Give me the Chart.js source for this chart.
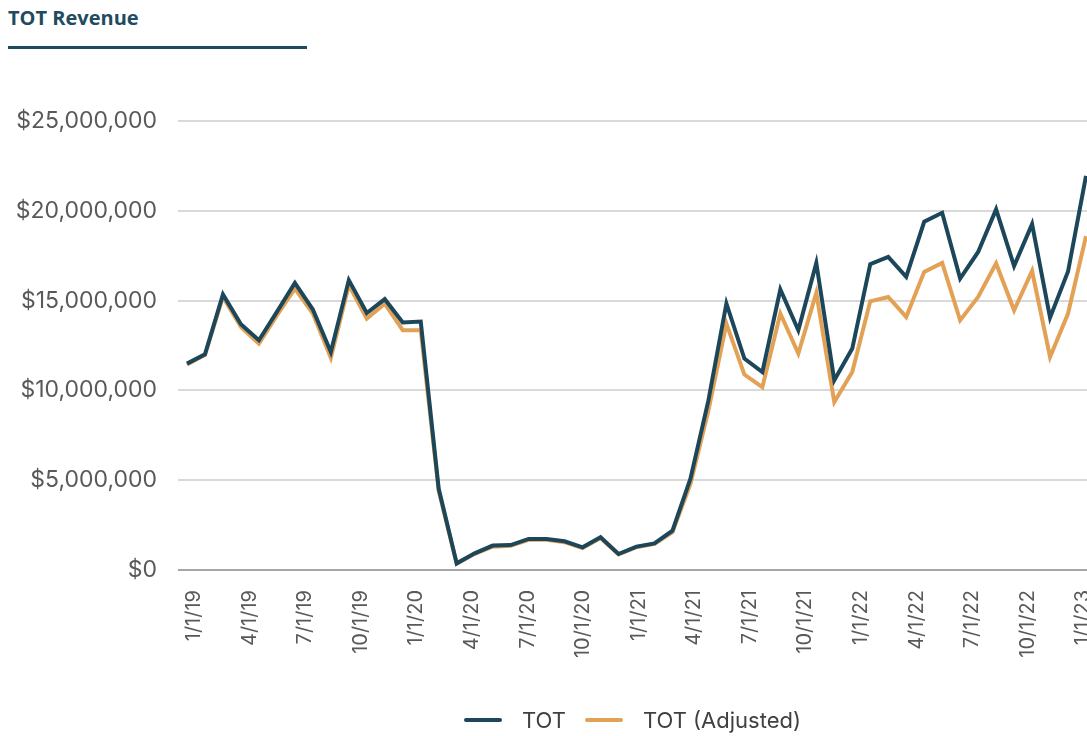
<!DOCTYPE html>
<html>
<head>
<meta charset="utf-8">
<title>TOT Revenue</title>
<script src="https://cdn.jsdelivr.net/npm/chart.js@4.4.1/dist/chart.umd.min.js"></script>
<style>
  body { margin: 0; background: #fff; overflow: hidden; width: 1087px; height: 736px; position: relative; font-family: Inter, sans-serif; }
  .chart-title { position: absolute; left: 8px; top: 7px; font: 700 20px "Open Sans", sans-serif; color: #1f4b60; line-height: 22px; }
  .title-rule { position: absolute; left: 8px; top: 46px; width: 299px; height: 3px; background: #1f4b60; }
  #chartWrap { position: absolute; left: 0; top: 0; }
  #legend { position: absolute; left: 464px; top: 708px; display: flex; align-items: center; font-size: 22px; color: #404040; line-height: 24px; }
  .legend-item { display: flex; align-items: center; margin-right: 19px; }
  .legend-swatch { width: 38px; height: 4px; border-radius: 2px; margin-right: 20px; }
</style>
</head>
<body>
<div class="chart-title">TOT Revenue</div>
<div class="title-rule"></div>
<div id="chartWrap"><canvas id="totChart" width="1100" height="736"></canvas></div>
<div id="legend"></div>
<script>
// monthly categories, 1/1/19 .. 3/1/23
const months = [];
for (let yr = 19; yr <= 23; yr++) {
  for (let m = 1; m <= 12; m++) {
    if (yr === 23 && m > 3) break;
    months.push(m + '/1/' + yr);
  }
}

const totValues = [
  11490000, 12010000, 15340000, 13680000, 12790000, 14370000, 15980000, 14500000, 12140000, 16140000, 14310000, 15080000,
  13780000, 13830000, 4520000, 370000, 930000, 1360000, 1390000, 1730000, 1730000, 1600000, 1260000, 1820000,
  890000, 1300000, 1480000, 2190000, 5080000, 9440000, 14840000, 11770000, 11020000, 15620000, 13350000, 17100000,
  10560000, 12330000, 17030000, 17430000, 16320000, 19390000, 19890000, 16230000, 17710000, 20080000, 16920000, 19260000,
  14050000, 16620000, 21940000
];

const totAdjusted = [
  11450000, 11980000, 15200000, 13530000, 12600000, 14180000, 15670000, 14280000, 11820000, 15860000, 14000000, 14830000,
  13350000, 13350000, 4400000, 350000, 900000, 1300000, 1350000, 1680000, 1680000, 1550000, 1220000, 1780000,
  870000, 1270000, 1450000, 2100000, 4800000, 8880000, 13720000, 10880000, 10180000, 14280000, 12050000, 15430000,
  9350000, 11020000, 14960000, 15200000, 14090000, 16600000, 17100000, 13900000, 15200000, 17070000, 14460000, 16650000,
  11860000, 14280000, 18590000
];

const tickLabels = ['1/1/19', '4/1/19', '7/1/19', '10/1/19', '1/1/20', '4/1/20', '7/1/20', '10/1/20', '1/1/21',
  '4/1/21', '7/1/21', '10/1/21', '1/1/22', '4/1/22', '7/1/22', '10/1/22', '1/1/23'];

const yMax = 25000000;
const yStep = 5000000;

const totColor = '#1c4659';
const adjColor = '#e2a155';

const ctx = document.getElementById('totChart').getContext('2d');
const totChart = new Chart(ctx, {
  type: 'line',
  data: {
    labels: months,
    datasets: [{
      label: 'TOT',
      data: totValues,
      borderColor: totColor,
      backgroundColor: totColor,
      borderWidth: 4,
      pointRadius: 0,
      tension: 0
    }, {
      label: 'TOT (Adjusted)',
      data: totAdjusted,
      borderColor: adjColor,
      backgroundColor: adjColor,
      borderWidth: 4,
      pointRadius: 0,
      tension: 0
    }]
  },
  options: {
    responsive: false,
    animation: false,
    layout: { padding: { top: 121, right: 5, bottom: 66, left: 0 } },
    plugins: {
      legend: { display: false },
      tooltip: { enabled: false }
    },
    scales: {
      x: { display: false, offset: true },
      // date labels sit on their own axis, they drift a bit from the points in the original
      xLabels: {
        type: 'linear',
        position: 'bottom',
        min: -0.29,
        max: 16.21,
        grid: { display: false },
        border: { display: false },
        afterBuildTicks: scale => { scale.ticks = tickLabels.map((t, i) => ({ value: i })); },
        afterFit: scale => {
          scale.height = 100;
          scale.paddingLeft = 0;
          scale.paddingRight = 0;
        },
        ticks: {
          autoSkip: false,
          maxRotation: 90,
          minRotation: 90,
          padding: 12,
          color: '#595959',
          font: { family: 'Inter', size: 20 },
          callback: v => tickLabels[v]
        }
      },
      y: {
        min: 0,
        max: yMax,
        afterFit: scale => { scale.width = 178; },
        border: { display: false },
        grid: {
          color: c => (c.tick && c.tick.value === 0) ? '#a6a6a6' : '#d9d9d9',
          lineWidth: 2,
          drawTicks: false
        },
        ticks: {
          stepSize: yStep,
          padding: 21,
          color: '#595959',
          font: { family: 'Inter', size: 23 },
          callback: v => '$' + v.toLocaleString('en-US')
        }
      }
    }
  }
});

// html legend
const legendEl = document.getElementById('legend');
totChart.data.datasets.forEach(ds => {
  const item = document.createElement('div');
  item.className = 'legend-item';
  const sw = document.createElement('span');
  sw.className = 'legend-swatch';
  sw.style.background = ds.borderColor;
  const txt = document.createElement('span');
  txt.textContent = ds.label;
  item.appendChild(sw);
  item.appendChild(txt);
  legendEl.appendChild(item);
});
</script>
</body>
</html>
